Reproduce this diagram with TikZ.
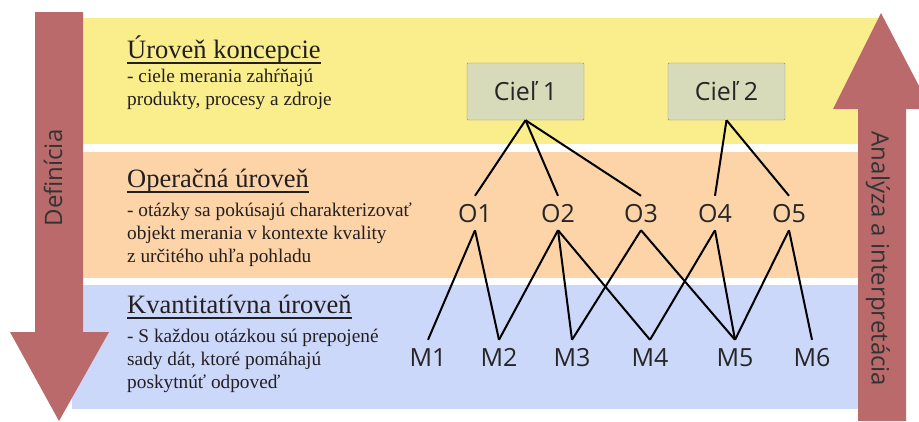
\documentclass[tikz,border=0pt]{standalone}
\usepackage{fontspec}
\setmainfont{Liberation Serif}
\newfontfamily\labelfont{Open Sans}
\usetikzlibrary{shapes}

\definecolor{bandyellow}{RGB}{250,237,140}
\definecolor{bandorange}{RGB}{252,212,168}
\definecolor{bandblue}{RGB}{204,216,250}
\definecolor{arrowred}{RGB}{186,106,106}
\definecolor{goalfill}{RGB}{215,219,186}
\definecolor{goalline}{RGB}{140,142,125}
\definecolor{inktext}{RGB}{35,31,32}

\begin{document}
\begin{tikzpicture}[x=1pt,y=-1pt,
    goal/.style={draw=goalline,fill=goalfill,rectangle,rounded corners=1pt,
      minimum width=117pt,minimum height=57pt,text height=18pt,text depth=0pt,
      font=\labelfont\fontsize{25}{30}\selectfont,text=black!85},
    item/.style={inner sep=8pt,text height=18pt,text depth=0pt,
      font=\labelfont\fontsize{25}{30}\selectfont,text=black!85},
    link/.style={line width=2pt},
    level/.style={anchor=base west,inner sep=0pt,font=\fontsize{26.5}{30}\selectfont,text=inktext},
    note/.style={anchor=base west,inner sep=0pt,align=left,font=\fontsize{19.3}{23}\selectfont,text=inktext},
    side/.style={font=\labelfont\fontsize{24}{28}\selectfont,text=black!80}]

  \clip (0,0) rectangle (919,421);

  % bands
  \fill[bandyellow] (72,18) rectangle (880,144);
  \fill[bandorange] (72,152) rectangle (880,278);
  \fill[bandblue] (72,285) rectangle (880,409);

  % arrows
  \fill[arrowred] (35,12) -- (83,12) -- (83,332) -- (109,332) -- (59,421) -- (10,332) -- (35,332) -- cycle;
  \fill[arrowred] (881,13) -- (931,109) -- (906,109) -- (906,421) -- (858,421) -- (858,109) -- (833,109) -- cycle;
  \node[side,rotate=90] (defin) at (53,178) {Definícia};
  \node[side,rotate=-90] (analy) at (878,259) {Analýza a interpretácia};

  % levels (notes sit on the baseline of their last line)
  \node[level] (lvl1) at (127,58) {Úroveň koncepcie};
  \node[note] (note1) at (127,105) {- ciele merania zahŕňajú\\produkty, procesy a zdroje};
  \node[level] (lvl2) at (127,187) {Operačná úroveň};
  \node[note] (note2) at (127,262) {- otázky sa pokúsajú charakterizovať\\objekt merania v kontexte kvality\\z určitého uhľa pohladu};
  \node[level] (lvl3) at (127,313) {Kvantitatívna úroveň};
  \node[note] (note3) at (127,388) {- S každou otázkou sú prepojené\\sady dát, ktoré pomáhajú\\poskytnúť odpoveď};
  \foreach \l in {lvl1,lvl2,lvl3}
    \draw[inktext,line width=1.4pt] ([yshift=-5pt]\l.base west) -- ([yshift=-5pt]\l.base east);

  % goals, questions, metrics
  \node[goal] (c1) at (525.5,91.5) {Cieľ 1};
  \node[goal] (c2) at (726.5,91.5) {Cieľ 2};

  \node[item] (o1) at (475,213) {O1};
  \node[item] (o2) at (558,213) {O2};
  \node[item] (o3) at (641,213) {O3};
  \node[item] (o4) at (715,213) {O4};
  \node[item] (o5) at (789,213) {O5};

  \node[item] (m1) at (428,357) {M1};
  \node[item] (m2) at (499,357) {M2};
  \node[item] (m3) at (572,357) {M3};
  \node[item] (m4) at (650,357) {M4};
  \node[item] (m5) at (735,357) {M5};
  \node[item] (m6) at (812,357) {M6};

  \path[link] (c1.south) edge (o1.north) (c1.south) edge (o2.north) (c1.south) edge (o3.north)
              (c2.south) edge (o4.north) (c2.south) edge (o5.north);
  \path[link] (o1.south) edge (m1.north) (o1.south) edge (m2.north)
              (o2.south) edge (m2.north) (o2.south) edge (m3.north) (o2.south) edge (m4.north)
              (o3.south) edge (m3.north) (o3.south) edge (m5.north);
  \path[link] (o4.south) edge (m4.north) (o4.south) edge (m5.north)
              (o5.south) edge (m5.north) (o5.south) edge (m6.north);

\end{tikzpicture}
\end{document}
